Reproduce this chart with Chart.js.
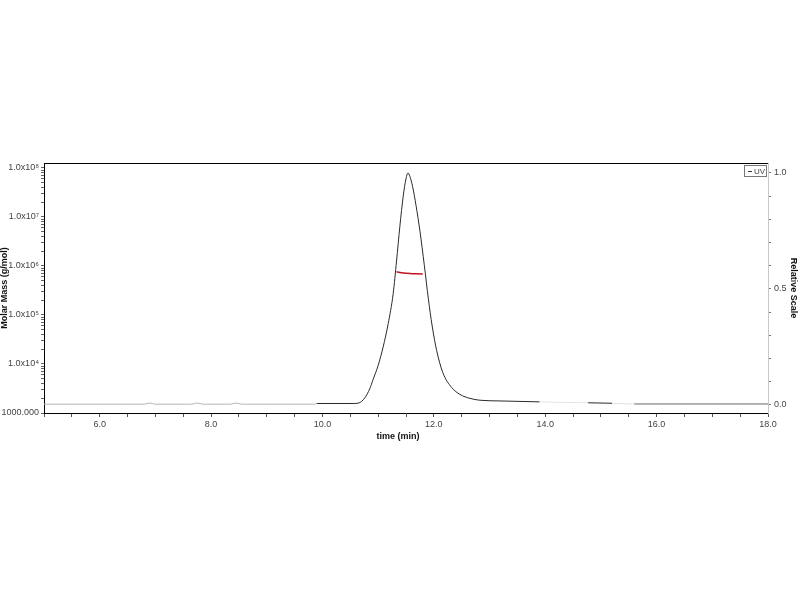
<!DOCTYPE html>
<html>
<head>
<meta charset="utf-8">
<script src="https://cdn.jsdelivr.net/npm/chart.js@4"></script>
<style>
  body { margin: 0; background: #fff; }
  canvas { display: block; }
</style>
</head>
<body>
<canvas id="chart" width="800" height="600"></canvas>
<script>
// UV trace (relative scale)
const uvTime = [5.0, 6.8, 6.9, 7.0, 7.65, 7.75, 7.85, 8.35, 8.45, 8.55, 9.85, 9.9, 10.55, 10.65,
    10.76, 10.85, 10.91, 11.0, 11.09, 11.18, 11.27, 11.33, 11.39, 11.45, 11.5, 11.535, 11.57,
    11.62, 11.68, 11.75, 11.83, 11.9, 11.97, 12.05, 12.16, 12.32, 12.47, 12.65, 12.83, 13.19,
    13.9, 14.3, 14.77, 15.2, 15.6, 18.0];
const uvValue = [0.003, 0.003, 0.008, 0.003, 0.003, 0.008, 0.003, 0.003, 0.008, 0.003, 0.003, 0.006, 0.006, 0.008,
    0.03, 0.07, 0.11, 0.17, 0.25, 0.35, 0.48, 0.62, 0.77, 0.9, 0.975, 1.0, 0.985,
    0.94, 0.86, 0.75, 0.6, 0.46, 0.34, 0.235, 0.14, 0.075, 0.045, 0.028, 0.02, 0.017,
    0.013, 0.011, 0.009, 0.007, 0.004, 0.004];

// Molar mass across the peak (g/mol)
const massTime = [11.33, 11.45, 11.57, 11.69, 11.8];
const massValue = [7.6e5, 7.2e5, 7.0e5, 6.9e5, 6.85e5];

// Axis ticks
const xTicks = [];
for (let t = 5; t <= 18; t += 0.5) xTicks.push(t);
const xLabelled = [6, 8, 10, 12, 14, 16, 18];
const decades = [1e3, 1e4, 1e5, 1e6, 1e7, 1e8];
const decadeLabels = ['1000.000', '1.0x10\u2074', '1.0x10\u2075', '1.0x10\u2076', '1.0x10\u2077', '1.0x10\u2078'];
const relTicks = [0, 0.1, 0.2, 0.3, 0.4, 0.5, 0.6, 0.7, 0.8, 0.9, 1.0];
const relLabelled = [0, 0.5, 1.0];

const FONT = 'Liberation Sans, Arial, sans-serif';
const PLOT = { left: 44, right: 768, top: 163, bottom: 413 };

function uvColor(ctx) {
    const t = ctx.p0.parsed.x;
    if (t < 9.88) return '#b4b4b4';
    if (t >= 13.9 && t < 14.77) return '#e4e4e4';
    if (t >= 15.2 && t < 15.6) return '#e0e0e0';
    if (t >= 15.6) return '#6a6a6a';
    return '#2a2a2a';
}

const overlay = {
    id: 'overlay',
    afterDraw(chart) {
        const c = chart.ctx;
        const a = chart.chartArea;
        c.save();
        // top frame line
        c.strokeStyle = '#000';
        c.lineWidth = 1;
        c.beginPath();
        c.moveTo(a.left, a.top + 0.5);
        c.lineTo(a.right, a.top + 0.5);
        c.stroke();

        // legend box
        c.strokeStyle = '#777';
        c.strokeRect(a.right - 23.5, a.top + 2.5, 22, 11);
        c.strokeStyle = '#333';
        c.beginPath();
        c.moveTo(a.right - 20, a.top + 8.5);
        c.lineTo(a.right - 16, a.top + 8.5);
        c.stroke();
        c.fillStyle = '#444';
        c.font = '8px ' + FONT;
        c.textBaseline = 'middle';
        c.fillText('UV', a.right - 14, a.top + 8.5);

        // axis titles
        c.fillStyle = '#111';
        c.font = 'bold 9px ' + FONT;
        c.textAlign = 'center';
        c.fillText('time (min)', 398, 437);

        c.save();
        c.translate(5, (a.top + a.bottom) / 2);
        c.rotate(-Math.PI / 2);
        c.fillText('Molar Mass (g/mol)', 0, 0);
        c.restore();

        c.save();
        c.translate(793, (a.top + a.bottom) / 2);
        c.rotate(Math.PI / 2);
        c.fillText('Relative Scale', 0, 0);
        c.restore();
        c.restore();
    }
};

new Chart(document.getElementById('chart'), {
    type: 'line',
    data: {
        datasets: [{
            label: 'UV',
            data: uvTime.map((t, i) => ({ x: t, y: uvValue[i] })),
            yAxisID: 'yRel',
            borderColor: '#2a2a2a',
            borderWidth: 1,
            pointRadius: 0,
            cubicInterpolationMode: 'monotone',
            segment: { borderColor: uvColor }
        }, {
            label: 'Molar Mass',
            data: massTime.map((t, i) => ({ x: t, y: massValue[i] })),
            yAxisID: 'yMass',
            borderColor: '#c0141e',
            borderWidth: 1.5,
            pointRadius: 0,
            tension: 0.3
        }]
    },
    options: {
        responsive: false,
        animation: false,
        layout: { padding: { top: PLOT.top, left: 0, right: 0, bottom: 0 } },
        plugins: { legend: { display: false }, tooltip: { enabled: false } },
        scales: {
            x: {
                type: 'linear',
                min: 5,
                max: 18,
                afterBuildTicks: s => { s.ticks = xTicks.map(v => ({ value: v })); },
                afterFit: s => { s.height = 600 - PLOT.bottom; },
                ticks: {
                    autoSkip: false,
                    maxRotation: 0,
                    padding: 2,
                    color: '#444',
                    font: { family: FONT, size: 9 },
                    callback: v => xLabelled.includes(v) ? v.toFixed(1) : ''
                },
                grid: { drawOnChartArea: false, tickLength: 4, color: '#555' },
                border: { color: '#000', width: 1 }
            },
            yMass: {
                type: 'logarithmic',
                position: 'left',
                min: 1000,
                max: 1.26e8,
                afterBuildTicks: s => {
                    const ticks = [];
                    decades.forEach(d => {
                        ticks.push({ value: d, major: true });
                        if (d < 1e8) for (let m = 2; m <= 9; m++) ticks.push({ value: d * m });
                    });
                    s.ticks = ticks;
                },
                afterFit: s => { s.width = PLOT.left; },
                ticks: {
                    autoSkip: false,
                    padding: 2,
                    color: '#444',
                    font: { family: FONT, size: 9 },
                    callback: v => {
                        const i = decades.indexOf(v);
                        return i >= 0 ? decadeLabels[i] : '';
                    }
                },
                grid: { drawOnChartArea: false, tickLength: 3, color: '#666' },
                border: { color: '#000', width: 1 }
            },
            yRel: {
                type: 'linear',
                position: 'right',
                min: -0.035,
                max: 1.043,
                afterBuildTicks: s => { s.ticks = relTicks.map(v => ({ value: v })); },
                afterFit: s => { s.width = 800 - PLOT.right; },
                ticks: {
                    autoSkip: false,
                    padding: 3,
                    color: '#444',
                    font: { family: FONT, size: 9 },
                    callback: v => relLabelled.some(r => Math.abs(r - v) < 1e-6) ? v.toFixed(1) : ''
                },
                grid: { drawOnChartArea: false, tickLength: 3, color: '#777' },
                border: { color: '#c8c8c8', width: 1 }
            }
        }
    },
    plugins: [overlay]
});
</script>
</body>
</html>
